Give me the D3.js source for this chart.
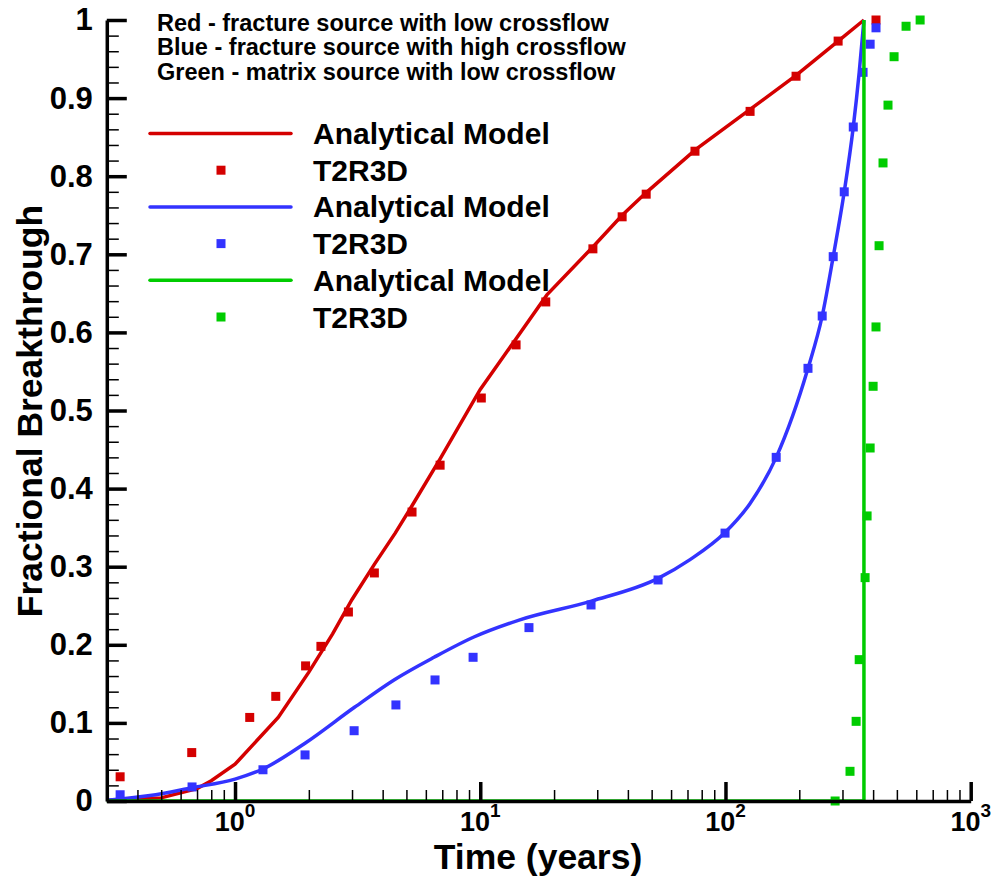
<!DOCTYPE html>
<html lang="en">
<head>
<meta charset="utf-8">
<style>
  html, body { margin: 0; padding: 0; background: #fff; }
  svg { display: block; font-family: "Liberation Sans", Arial, Helvetica, sans-serif; font-weight: bold; }
</style>
</head>
<body>
<script src="https://cdn.jsdelivr.net/npm/d3@7/dist/d3.min.js"></script>
<script>
// values (time in years, fractional breakthrough)
var redModelT = [0.3, 0.5, 0.7, 0.8, 1.0, 1.5, 2.0, 2.5, 3.0, 3.7, 4.5, 5.27, 6.86, 10, 14, 18.7, 28.9, 37.9, 47.5, 75.5, 124, 194, 288, 367];
var redModelC = [0.001, 0.004, 0.016, 0.026, 0.047, 0.107, 0.165, 0.214, 0.258, 0.303, 0.343, 0.378, 0.438, 0.527, 0.592, 0.648, 0.710, 0.750, 0.779, 0.834, 0.884, 0.929, 0.973, 1.0];

var redT2R3DT = [0.34, 0.666, 1.148, 1.466, 1.94, 2.24, 2.90, 3.70, 5.27, 6.86, 10.1, 14.0, 18.5, 28.8, 37.9, 47.5, 75.1, 126, 194, 288, 411];
var redT2R3DC = [0.031, 0.062, 0.107, 0.134, 0.173, 0.198, 0.242, 0.292, 0.370, 0.430, 0.516, 0.584, 0.639, 0.707, 0.748, 0.777, 0.832, 0.883, 0.928, 0.973, 1.0];

var blueModelT = [0.3, 0.45, 0.667, 1.0, 1.3, 1.93, 3.07, 4.45, 6.48, 9.42, 14.5, 28.4, 53.1, 71.7, 99.8, 126, 161, 217, 248, 275, 305, 332, 351, 367];
var blueModelC = [0.001, 0.007, 0.017, 0.028, 0.041, 0.074, 0.120, 0.155, 0.184, 0.210, 0.232, 0.256, 0.285, 0.309, 0.344, 0.381, 0.440, 0.554, 0.621, 0.697, 0.780, 0.863, 0.933, 1.0];

var blueT2R3DT = [0.34, 0.668, 1.30, 1.93, 3.06, 4.53, 6.54, 9.35, 15.8, 28.3, 53.1, 99.6, 161, 217, 248, 275, 305, 332, 364, 389, 411];
var blueT2R3DC = [0.008, 0.018, 0.040, 0.059, 0.090, 0.123, 0.155, 0.184, 0.222, 0.251, 0.283, 0.343, 0.440, 0.554, 0.621, 0.697, 0.780, 0.863, 0.933, 0.969, 0.990];

var greenModelT = [0.3, 367, 367];
var greenModelC = [0, 0, 1];

var greenT2R3DT = [280, 322, 341, 351, 371, 378, 389, 400, 411, 423, 439, 460, 487, 545, 622];
var greenT2R3DC = [0.0, 0.038, 0.102, 0.181, 0.286, 0.365, 0.452, 0.531, 0.607, 0.711, 0.817, 0.891, 0.953, 0.992, 1.0];

var yMajor = [0, 0.1, 0.2, 0.3, 0.4, 0.5, 0.6, 0.7, 0.8, 0.9, 1];
var xMajor = [1, 10, 100, 1000];
var xMajorExp = ['0', '1', '2', '3'];

var legendHeader = [
  'Red - fracture source with low crossflow',
  'Blue - fracture source with high crossflow',
  'Green - matrix source with low crossflow'
];

var RED = '#d40000', BLUE = '#3333ff', GREEN = '#00cc00';

var width = 998, height = 879;
var svg = d3.select('body').append('svg')
  .attr('width', width)
  .attr('height', height);

var x = d3.scaleLog().domain([0.3, 1000]).range([106.8, 970.7]);
var y = d3.scaleLinear().domain([0, 1]).range([801, 20]);

function zip(ts, cs) { return ts.map(function(t, i) { return {t: t, c: cs[i]}; }); }

var series = [
  {model: zip(redModelT, redModelC), pts: zip(redT2R3DT, redT2R3DC), color: RED, curve: d3.curveLinear},
  {model: zip(blueModelT, blueModelC), pts: zip(blueT2R3DT, blueT2R3DC), color: BLUE, curve: d3.curveMonotoneX},
  {model: zip(greenModelT, greenModelC), pts: zip(greenT2R3DT, greenT2R3DC), color: GREEN, curve: d3.curveLinear}
];

var sq = 9;
var plot = svg.append('g');
series.forEach(function(s) {
  var line = d3.line().x(d => x(d.t)).y(d => y(d.c)).curve(s.curve);
  plot.append('path')
    .datum(s.model)
    .attr('d', line)
    .attr('fill', 'none')
    .attr('stroke', s.color)
    .attr('stroke-width', 3.5);
  plot.selectAll(null)
    .data(s.pts)
    .enter().append('rect')
    .attr('x', d => x(d.t) - sq / 2)
    .attr('y', d => y(d.c) - sq / 2)
    .attr('width', sq)
    .attr('height', sq)
    .attr('fill', s.color);
});

// axes, ticks pointing inward
var yMinor = d3.range(0, 1.0001, 0.02).filter(v => Math.abs(v * 10 - Math.round(v * 10)) > 1e-6);
var xMinor = [];
[-1, 0, 1, 2].forEach(function(k) {
  for (var m = 2; m <= 9; m++) {
    var v = m * Math.pow(10, k);
    if (v > 0.31 && v < 1000) xMinor.push(v);
  }
});

var yAxisG = svg.append('g').attr('transform', 'translate(' + x(0.3) + ',0)');
yAxisG.call(d3.axisLeft(y).tickValues(yMinor).tickSize(-12).tickSizeOuter(0).tickFormat(''));
yAxisG.selectAll('.tick line').attr('stroke-width', 1.5);
var yMaj = svg.append('g').attr('transform', 'translate(' + x(0.3) + ',0)')
  .call(d3.axisLeft(y).tickValues(yMajor).tickSize(-20).tickSizeOuter(0).tickPadding(14)
    .tickFormat(d => d === 0 ? '0' : d === 1 ? '1' : d3.format('.1f')(d)));
yMaj.selectAll('.tick line').attr('stroke-width', 3.5);
yMaj.selectAll('text').attr('font-size', 31).attr('font-family', null).attr('fill', '#000');
yMaj.select('.domain').attr('stroke-width', 3.5);
yAxisG.select('.domain').remove();

var xAxisG = svg.append('g').attr('transform', 'translate(0,' + y(0) + ')');
xAxisG.call(d3.axisBottom(x).tickValues(xMinor).tickSize(-11).tickSizeOuter(0).tickFormat(''));
xAxisG.selectAll('.tick line').attr('stroke-width', 1.5);
xAxisG.select('.domain').remove();
var xMaj = svg.append('g').attr('transform', 'translate(0,' + y(0) + ')')
  .call(d3.axisBottom(x).tickValues(xMajor).tickSize(-19).tickSizeOuter(0).tickFormat(''));
xMaj.selectAll('.tick line').attr('stroke-width', 3.5);
xMaj.select('.domain').attr('stroke-width', 3.5);

var xLab = svg.append('g').selectAll('text')
  .data(xMajor)
  .enter().append('text')
  .attr('x', d => x(d))
  .attr('y', 831)
  .attr('text-anchor', 'middle')
  .attr('font-size', 27);
xLab.append('tspan').text('10');
xLab.append('tspan').attr('dy', -14).attr('font-size', 19).text((d, i) => xMajorExp[i]);

// axis titles
svg.append('text')
  .attr('x', 538)
  .attr('y', 869)
  .attr('text-anchor', 'middle')
  .attr('font-size', 35.5)
  .text('Time (years)');
svg.append('text')
  .attr('transform', 'translate(42,411) rotate(-90)')
  .attr('text-anchor', 'middle')
  .attr('font-size', 35.5)
  .text('Fractional Breakthrough');

// legend
svg.append('g').selectAll('text')
  .data(legendHeader)
  .enter().append('text')
  .attr('x', 157)
  .attr('y', (d, i) => 30.5 + i * 24.5)
  .attr('font-size', 23.5)
  .text(d => d);

var legItems = [];
series.forEach(function(s) {
  legItems.push({kind: 'line', color: s.color, label: 'Analytical Model'});
  legItems.push({kind: 'sym', color: s.color, label: 'T2R3D'});
});
var leg = svg.append('g').selectAll('g')
  .data(legItems)
  .enter().append('g')
  .attr('transform', (d, i) => 'translate(0,' + (133.5 + i * 36.7) + ')');
leg.filter(d => d.kind === 'line').append('line')
  .attr('x1', 150).attr('x2', 291)
  .attr('stroke', d => d.color)
  .attr('stroke-width', 3.5)
  .attr('stroke-linecap', 'round');
leg.filter(d => d.kind === 'sym').append('rect')
  .attr('x', 221 - sq / 2).attr('y', -sq / 2)
  .attr('width', sq).attr('height', sq)
  .attr('fill', d => d.color);
leg.append('text')
  .attr('x', 313)
  .attr('y', 10.5)
  .attr('font-size', 30)
  .text(d => d.label);
</script>
</body>
</html>
